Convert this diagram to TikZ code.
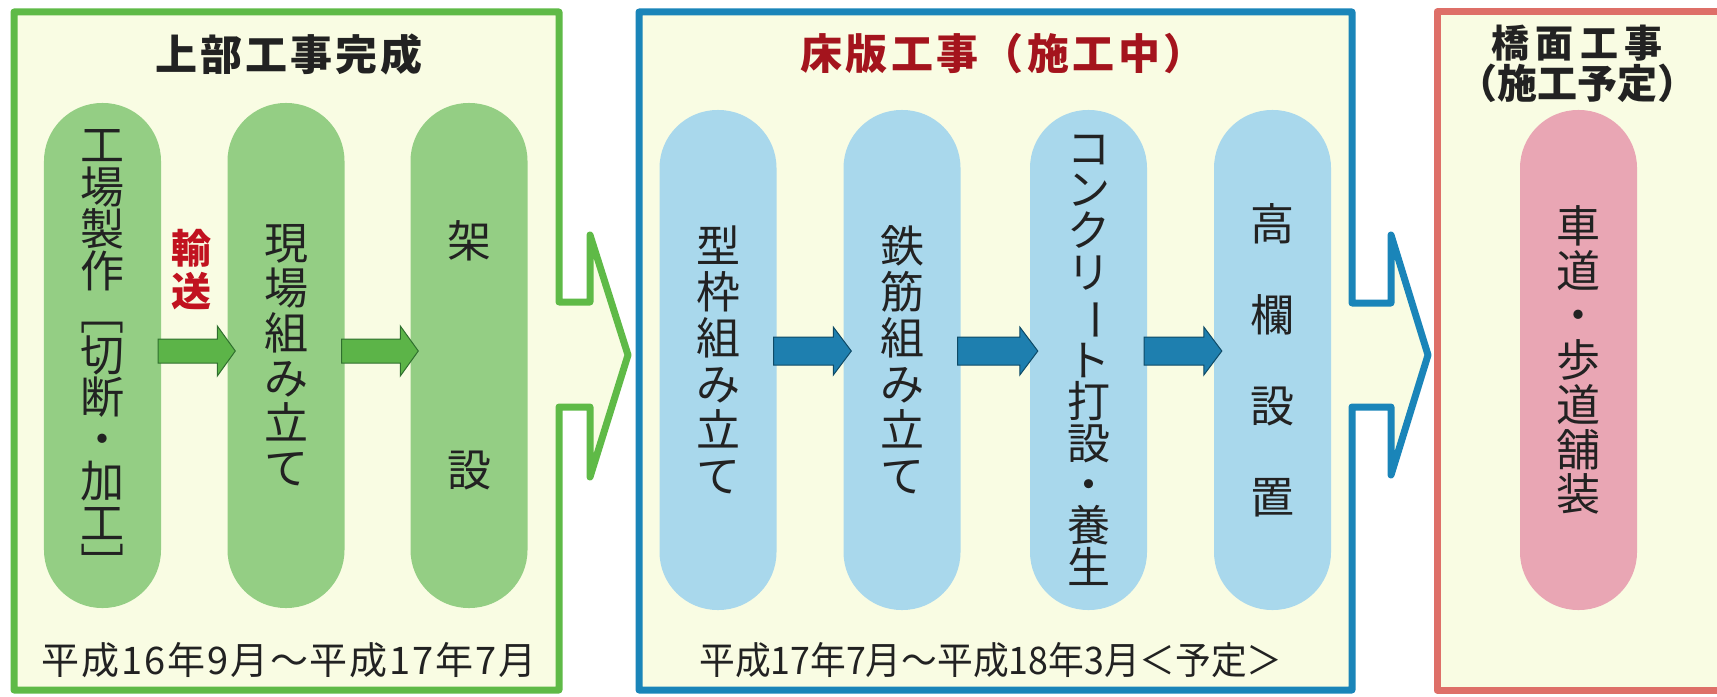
\documentclass[tikz,border=0pt]{standalone}
\usepackage{fontspec}
\setmainfont{Noto Sans CJK JP}
\usetikzlibrary{calc}
\definecolor{boxfill}{HTML}{F9FCE3}
\definecolor{gline}{HTML}{5FBA47}
\definecolor{gpillc}{HTML}{94CE84}
\definecolor{garrowc}{HTML}{5CB448}
\definecolor{garrowo}{HTML}{2F6F2E}
\definecolor{bline}{HTML}{1A85B9}
\definecolor{bpillc}{HTML}{A9D8EC}
\definecolor{barrowc}{HTML}{1E7FAF}
\definecolor{barrowo}{HTML}{0E4A66}
\definecolor{pline}{HTML}{DE6F68}
\definecolor{ppillc}{HTML}{E9A6B4}
\definecolor{txt}{HTML}{222222}
\definecolor{titlered}{HTML}{A4141D}
\definecolor{transred}{HTML}{C1121F}
\tikzset{
  stagebox/.style={fill=boxfill, line width=7bp, line join=round},
  pill/.style={rectangle, rounded corners=58bp, minimum width=117bp, inner sep=0pt, align=center, text=txt},
  gpill/.style={pill, fill=gpillc},
  bpill/.style={pill, fill=bpillc},
  ppill/.style={pill, fill=ppillc},
  garrow/.style={fill=garrowc, draw=garrowo, line width=1bp, line join=miter},
  barrow/.style={fill=barrowc, draw=barrowo, line width=1bp, line join=miter},
  titletext/.style={inner sep=0pt, text=txt, align=center},
  datetext/.style={inner sep=0pt, text=txt, font=\fontsize{38bp}{40bp}\selectfont},
}
\newcommand\vfs[2]{\fontsize{#1}{#2}\selectfont}
\newcommand\blockarr[5]{%
  \draw[#1] let \p1=(#2.east), \p2=(#3.west), \p3=(row) in
    (\x1-3bp,\y3+#4) -- (\x2-10bp,\y3+#4) -- (\x2-10bp,\y3+#5) -- (\x2+8bp,\y3)
    -- (\x2-10bp,\y3-#5) -- (\x2-10bp,\y3-#4) -- (\x1-3bp,\y3-#4) -- cycle;}
\newcommand\vbar{\rotatebox[origin=c]{-90}{ー}}
\begin{document}
\begin{tikzpicture}[x=1bp,y=-1bp]
\clip (0,0) rectangle (1717,697);
\fill[white] (0,0) rectangle (1717,697);
% stage boxes with outgoing arrows
\draw[stagebox, draw=gline] (14,12) -- (559,12) -- (559,302) -- (590,302) -- (590,235)
  -- (628,355) -- (590,477) -- (590,407) -- (559,407) -- (559,690) -- (14,690) -- cycle;
\draw[stagebox, draw=bline] (639,12) -- (1352,12) -- (1352,303) -- (1391,303) -- (1391,235)
  -- (1428,355) -- (1391,475) -- (1391,407) -- (1352,407) -- (1352,690) -- (639,690) -- cycle;
\draw[stagebox, draw=pline] (1437,12) -- (1745,12) -- (1745,690) -- (1437,690) -- cycle;
\coordinate (row) at (0,351);
% titles
\node[titletext, font=\vfs{42bp}{42bp}\bfseries\addfontfeature{LetterSpace=7}] (t1) at (289,54) {上部工事完成};
\node[titletext, text=titlered, font=\vfs{42bp}{42bp}\bfseries\addfontfeature{LetterSpace=8}] (t2) at (1003,54) {床版工事（施工中）};
\node[titletext, font=\vfs{38bp}{41bp}\bfseries] (t3) at (1577,64) {{\addfontfeature{LetterSpace=16}橋面工事\hspace{-6bp}}\\{\fontsize{40bp}{41bp}\selectfont（施工予定）}};
% green stage
\node[gpill, minimum height=505bp, font=\vfs{44bp}{42bp}] (g1) at (102.5,355.5) {工\\場\\製\\作\\﹇\\切\\断\\・\\加\\工\\﹈};
\node[gpill, minimum height=505bp, font=\vfs{44bp}{45bp}] (g2) at (286,355.5) {現\\場\\組\\み\\立\\て};
\node[gpill, minimum height=505bp, font=\vfs{44bp}{229bp}] (g3) at (469,355.5) {架\\設};
\node[inner sep=0pt, text=transred, align=center, font=\vfs{40bp}{43bp}\bfseries] (tr) at (191,270) {輸\\送};
\blockarr{garrow}{g1}{g2}{12bp}{25bp}
\blockarr{garrow}{g2}{g3}{12bp}{25bp}
\node[datetext, font=\vfs{38bp}{40bp}\addfontfeature{LetterSpace=5}] (d1) at (289,660) {平成16年9月～平成17年7月};
% blue stage
\node[bpill, minimum height=500bp, font=\vfs{44bp}{46bp}] (b1) at (718,360) {型\\枠\\組\\み\\立\\て};
\node[bpill, minimum height=500bp, font=\vfs{44bp}{46bp}] (b2) at (902,360) {鉄\\筋\\組\\み\\立\\て};
\node[bpill, minimum height=500bp, font=\vfs{43bp}{41.4bp}] (b3) at (1088.5,360) {コ\\ン\\ク\\リ\\\vbar\\ト\\打\\設\\・\\養\\生};
\node[bpill, minimum height=500bp, font=\vfs{44bp}{91bp}] (b4) at (1272.5,360) {高\\欄\\設\\置};
\blockarr{barrow}{b1}{b2}{14bp}{24bp}
\blockarr{barrow}{b2}{b3}{14bp}{24bp}
\blockarr{barrow}{b3}{b4}{14bp}{24bp}
\node[datetext] (d2) at (991,660) {\scalebox{0.94}[1]{平成17年7月～平成18年3月＜予定＞}};
% pink stage
\node[ppill, minimum height=500bp, font=\vfs{44bp}{44.7bp}] (p1) at (1578.5,360) {車\\道\\・\\歩\\道\\舗\\装};
\end{tikzpicture}
\end{document}
